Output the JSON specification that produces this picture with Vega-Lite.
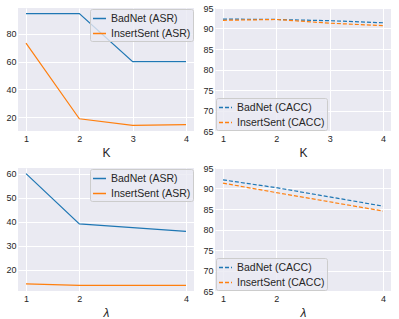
{
  "$schema": "https://vega.github.io/schema/vega-lite/v6.json",
  "padding": {"left": 5, "top": 4, "right": 5, "bottom": 0},
  "columns": 2,
  "spacing": {"column": 8, "row": 6},
  "resolve": {"scale": {"color": "independent", "x": "independent", "y": "independent"}, "legend": {"color": "independent"}},
  "config": {
    "view": {"fill": "#eaeaf2", "stroke": null},
    "font": "Liberation Sans",
    "axis": {"domain": false, "ticks": false, "gridColor": "#ffffff", "gridWidth": 1, "labelFont": "Liberation Sans", "labelFontSize": 9, "labelColor": "#262626", "labelPadding": 3, "labelFlush": false, "labelOverlap": false, "titleFont": "Liberation Sans", "titleFontSize": 12, "titleFontWeight": "normal", "titleColor": "#262626", "titlePadding": 4},
    "axisY": {"labelPadding": 2},
    "legend": {"title": null, "labelFont": "Liberation Sans", "labelFontSize": 10.5, "labelColor": "#262626", "symbolType": "stroke", "symbolSize": 169, "symbolStrokeWidth": 1.5, "padding": 2, "rowPadding": 2, "labelOffset": 4, "fillColor": "rgba(234,234,242,0.8)", "strokeColor": "#cccccc", "cornerRadius": 2, "offset": 1}
  },
  "concat": [
    {
      "width": 176, "height": 123,
      "data": {"values": [
        {"K": 1, "series": "BadNet (ASR)", "value": 94.5},
        {"K": 2, "series": "BadNet (ASR)", "value": 94.5},
        {"K": 3, "series": "BadNet (ASR)", "value": 60.0},
        {"K": 4, "series": "BadNet (ASR)", "value": 60.0},
        {"K": 1, "series": "InsertSent (ASR)", "value": 73.3},
        {"K": 2, "series": "InsertSent (ASR)", "value": 18.9},
        {"K": 3, "series": "InsertSent (ASR)", "value": 14.1},
        {"K": 4, "series": "InsertSent (ASR)", "value": 14.6}
      ]},
      "mark": {"type": "line", "strokeWidth": 1.2},
      "encoding": {
        "x": {"field": "K", "type": "quantitative", "scale": {"domain": [0.85, 4.15], "nice": false, "zero": false}, "axis": {"values": [1, 2, 3, 4], "format": "d", "title": "K"}},
        "y": {"field": "value", "type": "quantitative", "scale": {"domain": [10.08, 98.52], "nice": false, "zero": false}, "axis": {"values": [20, 40, 60, 80], "title": null}},
        "color": {"field": "series", "type": "nominal", "scale": {"domain": ["BadNet (ASR)", "InsertSent (ASR)"], "range": ["#1f77b4", "#ff7f0e"]}, "legend": {"orient": "top-right"}}
      }
    },
    {
      "width": 176, "height": 123,
      "data": {"values": [
        {"K": 1, "series": "BadNet (CACC)", "value": 92.3},
        {"K": 2, "series": "BadNet (CACC)", "value": 92.2},
        {"K": 3, "series": "BadNet (CACC)", "value": 91.9},
        {"K": 4, "series": "BadNet (CACC)", "value": 91.4},
        {"K": 1, "series": "InsertSent (CACC)", "value": 92.0},
        {"K": 2, "series": "InsertSent (CACC)", "value": 92.2},
        {"K": 3, "series": "InsertSent (CACC)", "value": 91.3},
        {"K": 4, "series": "InsertSent (CACC)", "value": 90.7}
      ]},
      "mark": {"type": "line", "strokeWidth": 1.2, "strokeDash": [4, 2]},
      "encoding": {
        "x": {"field": "K", "type": "quantitative", "scale": {"domain": [0.85, 4.15], "nice": false, "zero": false}, "axis": {"values": [1, 2, 3, 4], "format": "d", "title": "K"}},
        "y": {"field": "value", "type": "quantitative", "scale": {"domain": [65, 95], "nice": false, "zero": false}, "axis": {"values": [65, 70, 75, 80, 85, 90, 95], "title": null}},
        "color": {"field": "series", "type": "nominal", "scale": {"domain": ["BadNet (CACC)", "InsertSent (CACC)"], "range": ["#1f77b4", "#ff7f0e"]}, "legend": {"orient": "bottom-left", "symbolDash": [4, 2]}}
      }
    },
    {
      "width": 176, "height": 123,
      "data": {"values": [
        {"lambda": 1, "series": "BadNet (ASR)", "value": 60.0},
        {"lambda": 2, "series": "BadNet (ASR)", "value": 39.1},
        {"lambda": 4, "series": "BadNet (ASR)", "value": 36.0},
        {"lambda": 1, "series": "InsertSent (ASR)", "value": 14.2},
        {"lambda": 2, "series": "InsertSent (ASR)", "value": 13.6},
        {"lambda": 4, "series": "InsertSent (ASR)", "value": 13.6}
      ]},
      "mark": {"type": "line", "strokeWidth": 1.2},
      "encoding": {
        "x": {"field": "lambda", "type": "quantitative", "scale": {"domain": [0.85, 4.15], "nice": false, "zero": false}, "axis": {"values": [1, 2, 4], "format": "d", "title": "λ", "titleFontStyle": "italic"}},
        "y": {"field": "value", "type": "quantitative", "scale": {"domain": [11.28, 62.32], "nice": false, "zero": false}, "axis": {"values": [20, 30, 40, 50, 60], "title": null}},
        "color": {"field": "series", "type": "nominal", "scale": {"domain": ["BadNet (ASR)", "InsertSent (ASR)"], "range": ["#1f77b4", "#ff7f0e"]}, "legend": {"orient": "top-right"}}
      }
    },
    {
      "width": 176, "height": 123,
      "data": {"values": [
        {"lambda": 1, "series": "BadNet (CACC)", "value": 92.1},
        {"lambda": 2, "series": "BadNet (CACC)", "value": 90.2},
        {"lambda": 4, "series": "BadNet (CACC)", "value": 85.7},
        {"lambda": 1, "series": "InsertSent (CACC)", "value": 91.3},
        {"lambda": 2, "series": "InsertSent (CACC)", "value": 89.0},
        {"lambda": 4, "series": "InsertSent (CACC)", "value": 84.5}
      ]},
      "mark": {"type": "line", "strokeWidth": 1.2, "strokeDash": [4, 2]},
      "encoding": {
        "x": {"field": "lambda", "type": "quantitative", "scale": {"domain": [0.85, 4.15], "nice": false, "zero": false}, "axis": {"values": [1, 2, 4], "format": "d", "title": "λ", "titleFontStyle": "italic"}},
        "y": {"field": "value", "type": "quantitative", "scale": {"domain": [65, 95], "nice": false, "zero": false}, "axis": {"values": [65, 70, 75, 80, 85, 90, 95], "title": null}},
        "color": {"field": "series", "type": "nominal", "scale": {"domain": ["BadNet (CACC)", "InsertSent (CACC)"], "range": ["#1f77b4", "#ff7f0e"]}, "legend": {"orient": "bottom-left", "symbolDash": [4, 2]}}
      }
    }
  ]
}
